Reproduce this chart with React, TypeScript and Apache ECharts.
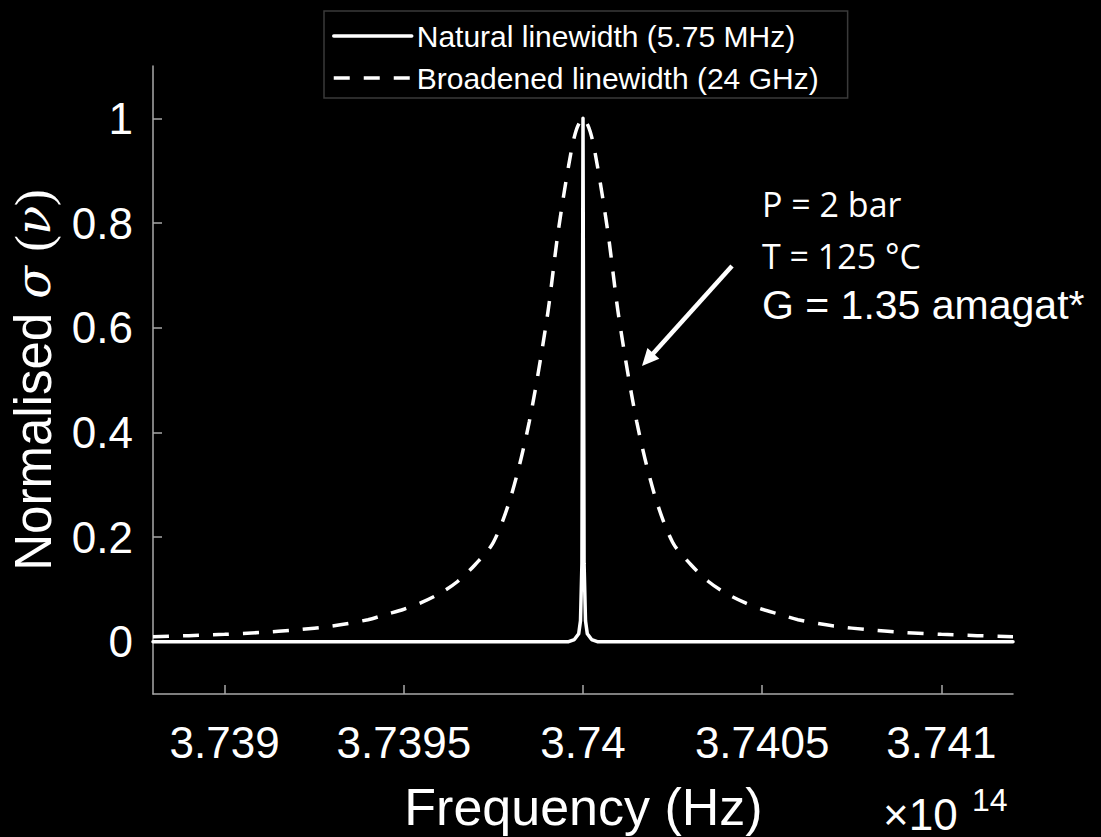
import React, { useEffect, useRef } from "react";
import * as echarts from "echarts";

// ---- data (frequency in units of 1e14 Hz) ----
const xTicks = [3.739, 3.7395, 3.74, 3.7405, 3.741];
const yTicks = [0, 0.2, 0.4, 0.6, 0.8, 1];

const seriesNames = ["Natural linewidth (5.75 MHz)", "Broadened linewidth (24 GHz)"];

const naturalFreq = [
  3.7388, 3.7392, 3.7396, 3.73996, 3.739976, 3.739988, 3.739993, 3.739997, 3.74,
  3.740003, 3.740007, 3.740012, 3.740024, 3.74004, 3.7404, 3.7408, 3.7412,
];
const naturalVal = [
  0, 0, 0, 0, 0.004, 0.015, 0.04, 0.15, 1,
  0.15, 0.04, 0.015, 0.004, 0, 0, 0, 0,
];

const broadFreq = [
  3.7388, 3.7389, 3.739, 3.7391, 3.7392, 3.7393, 3.7394, 3.73945, 3.7395, 3.73955,
  3.7396, 3.73965, 3.7397, 3.73975, 3.7398, 3.73985, 3.7399, 3.73993, 3.73996, 3.73998,
  3.74,
  3.74002, 3.74004, 3.74007, 3.7401, 3.74015, 3.7402, 3.74025, 3.7403, 3.74035, 3.7404,
  3.74045, 3.7405, 3.74055, 3.7406, 3.7407, 3.7408, 3.7409, 3.741, 3.7411, 3.7412,
];
const broadVal = [
  0.0096, 0.0115, 0.014, 0.0175, 0.0225, 0.03, 0.042, 0.052, 0.062, 0.075,
  0.092, 0.115, 0.148, 0.19, 0.28, 0.42, 0.62, 0.78, 0.91, 0.975,
  1.0,
  0.975, 0.91, 0.78, 0.62, 0.42, 0.28, 0.19, 0.148, 0.115, 0.092,
  0.075, 0.062, 0.052, 0.042, 0.03, 0.0225, 0.0175, 0.014, 0.0115, 0.0096,
];

const annotationLines = ["P = 2 bar", "T = 125 °C", "G = 1.35 amagat*"];

const AXIS_COLOR = "#a8a8a8";
const SANS = "'Liberation Sans', Arial, Helvetica, sans-serif";
const NOTE_FONT = "'Open Sans', 'Noto Sans', sans-serif";

export default function App() {
  const ref = useRef<HTMLDivElement>(null);

  useEffect(() => {
    if (!ref.current) return;
    const chart = echarts.init(ref.current, null, { renderer: "svg" });

    const naturalData = naturalFreq.map((f, i) => [f, naturalVal[i]]);
    const broadData = broadFreq.map((f, i) => [f, broadVal[i]]);

    // arrow geometry (annotation pointer)
    const ax0 = 732, ay0 = 266, ax1 = 642, ay1 = 366;
    const dx = ax1 - ax0, dy = ay1 - ay0;
    const len = Math.sqrt(dx * dx + dy * dy);
    const ux = dx / len, uy = dy / len;
    const headL = 17, headW = 8;
    const bx = ax1 - ux * headL, by = ay1 - uy * headL;
    const px = -uy, py = ux;

    const option: any = {
      backgroundColor: "#000",
      animation: false,
      grid: { left: 153, right: 88, top: 66, bottom: 143 },
      legend: {
        orient: "vertical",
        left: 324,
        top: 11,
        itemWidth: 78,
        itemHeight: 14,
        itemGap: 12,
        padding: [10, 29, 5, 8],
        backgroundColor: "#000",
        borderColor: "#3a3a3a",
        borderWidth: 1.5,
        selectedMode: false,
        itemStyle: { opacity: 0 },
        lineStyle: { width: 3.5 },
        textStyle: { color: "#fff", fontSize: 30, fontFamily: SANS },
        data: seriesNames,
      },
      xAxis: {
        type: "value",
        min: 3.7388,
        max: 3.7412,
        axisLine: { show: true, onZero: false, lineStyle: { color: AXIS_COLOR, width: 1.5 } },
        axisTick: {
          show: true,
          inside: true,
          length: 9,
          customValues: xTicks,
          lineStyle: { color: AXIS_COLOR, width: 1.5 },
        },
        axisLabel: {
          customValues: xTicks,
          color: "#fff",
          fontSize: 44,
          fontFamily: SANS,
          margin: 26,
          formatter: (v: number) => String(v),
        },
        splitLine: { show: false },
      },
      yAxis: {
        type: "value",
        min: -0.1,
        max: 1.1,
        axisLine: { show: true, onZero: false, lineStyle: { color: AXIS_COLOR, width: 1.5 } },
        axisTick: {
          show: true,
          inside: true,
          length: 9,
          customValues: yTicks,
          lineStyle: { color: AXIS_COLOR, width: 1.5 },
        },
        axisLabel: {
          customValues: yTicks,
          color: "#fff",
          fontSize: 44,
          fontFamily: SANS,
          margin: 20,
          formatter: (v: number) => String(v),
        },
        splitLine: { show: false },
      },
      series: [
        {
          name: seriesNames[0],
          type: "line",
          data: naturalData,
          symbol: "none",
          z: 3,
          lineStyle: { color: "#fff", width: 3.5, join: "round", cap: "round" },
          itemStyle: { color: "#fff" },
        },
        {
          name: seriesNames[1],
          type: "line",
          data: broadData,
          symbol: "none",
          smooth: 0.3,
          z: 2,
          lineStyle: { color: "#fff", width: 3.5, type: [16, 14] },
          itemStyle: { color: "#fff" },
        },
      ],
      graphic: [
        {
          type: "text",
          x: 33,
          y: 380,
          rotation: Math.PI / 2,
          style: {
            text: "Normalised {m|σ} {p|(}{m|ν}{p|)}",
            fill: "#fff",
            fontSize: 51,
            fontFamily: SANS,
            align: "center",
            verticalAlign: "middle",
            rich: {
              m: { fontSize: 48, fontStyle: "italic", fontFamily: "'DejaVu Serif', serif", fill: "#fff" },
              p: { fontSize: 50, fontFamily: "'Liberation Serif', serif", fill: "#fff" },
            },
          },
        },
        {
          type: "text",
          x: 583.5,
          y: 807,
          style: {
            text: "Frequency (Hz)",
            fill: "#fff",
            fontSize: 52,
            fontFamily: SANS,
            align: "center",
            verticalAlign: "middle",
          },
        },
        {
          type: "text",
          x: 883,
          y: 836,
          style: {
            text: "×10",
            fill: "#fff",
            fontSize: 44,
            fontFamily: SANS,
            align: "left",
            verticalAlign: "bottom",
          },
        },
        {
          type: "text",
          x: 972,
          y: 784,
          style: {
            text: "14",
            fill: "#fff",
            fontSize: 32,
            fontFamily: SANS,
            align: "left",
            verticalAlign: "top",
          },
        },
        {
          type: "text",
          x: 762,
          y: 221,
          style: {
            text: annotationLines[0],
            fill: "#fff",
            fontSize: 34,
            fontFamily: NOTE_FONT,
            align: "left",
            verticalAlign: "bottom",
          },
        },
        {
          type: "text",
          x: 762,
          y: 273,
          style: {
            text: annotationLines[1],
            fill: "#fff",
            fontSize: 34,
            fontFamily: NOTE_FONT,
            align: "left",
            verticalAlign: "bottom",
          },
        },
        {
          type: "text",
          x: 762,
          y: 325,
          style: {
            text: annotationLines[2],
            fill: "#fff",
            fontSize: 41,
            fontFamily: SANS,
            align: "left",
            verticalAlign: "bottom",
          },
        },
        {
          type: "line",
          shape: { x1: ax0, y1: ay0, x2: bx + ux * 2, y2: by + uy * 2 },
          style: { stroke: "#fff", lineWidth: 4.5 },
        },
        {
          type: "polygon",
          shape: {
            points: [
              [ax1, ay1],
              [bx + px * headW, by + py * headW],
              [bx - px * headW, by - py * headW],
            ],
          },
          style: { fill: "#fff" },
        },
      ],
    };

    chart.setOption(option);
    return () => chart.dispose();
  }, []);

  return (
    <div
      ref={ref}
      style={{ position: "absolute", left: 0, top: 0, width: 1101, height: 837 }}
    />
  );
}
